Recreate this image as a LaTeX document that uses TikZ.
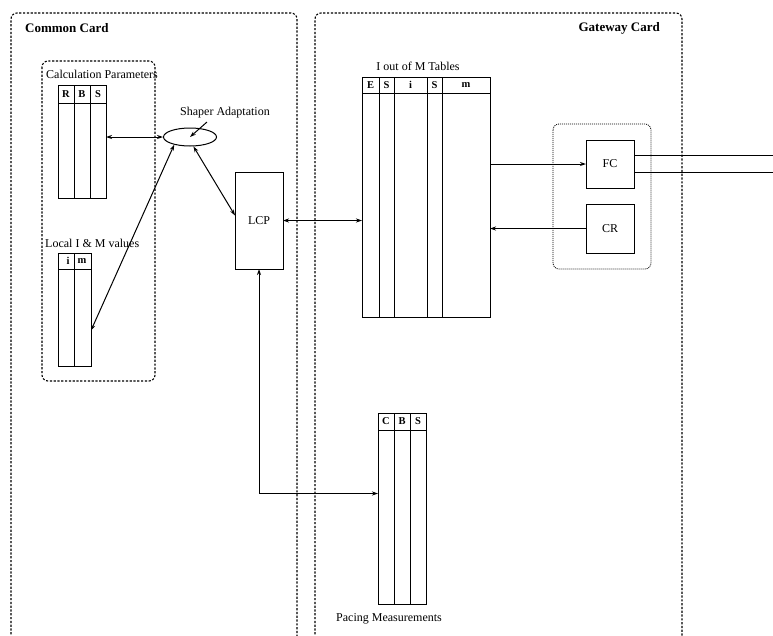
\documentclass[tikz,border=0pt]{standalone}
\usepackage{fontspec}
\setmainfont{Liberation Serif}
\usetikzlibrary{arrows.meta,shapes.geometric,calc}
\begin{document}
\begin{tikzpicture}[x=1pt,y=-1pt,
 card/.style={draw, line width=1.1pt, dash pattern=on 2.2pt off 1.6pt, rounded corners=6pt},
 grp/.style={draw, line width=0.8pt, dash pattern=on 1pt off 1pt, rounded corners=6pt},
 tbl/.style={draw, line width=1pt, inner sep=0pt, outer sep=0pt, anchor=north west},
 tline/.style={line width=1pt},
 box/.style={draw, line width=1pt, inner sep=0pt, outer sep=0pt, font=\fontsize{12}{14}\selectfont},
 hdr/.style={font=\bfseries\fontsize{10.5}{12}\selectfont, inner sep=0pt},
 lbl/.style={font=\fontsize{12}{14}\selectfont, inner sep=0pt},
 ttl/.style={font=\bfseries\fontsize{13}{15}\selectfont, inner sep=0pt},
 conn/.style={line width=1pt, {Stealth[length=6pt,width=4pt]}-{Stealth[length=6pt,width=4pt]}},
 one/.style={line width=1pt, -{Stealth[length=6pt,width=4pt]}},
 ]
\useasboundingbox (0,0) rectangle (773,635);
\clip (0,0) rectangle (773,635);
\fill[white] (0,0) rectangle (773,635);

% cards
\draw[card] (11,680) -- (11,13) -- (297,13) -- (297,680);
\draw[card] (315,680) -- (315,13) -- (682,13) -- (682,680);
\node[ttl, anchor=west] (cct) at (25,28) {Common Card};
\node[ttl, anchor=east] (gct) at (660,28) {Gateway Card};

% calculation parameters group
\draw[card] (42,61) rectangle (155,381);
\node[lbl, anchor=west] (cpl) at (46,74) {Calculation Parameters};

% R B S table
\node[tbl, minimum width=48pt, minimum height=113pt] (rbs) at (58,85) {};
\draw[tline] (58,103) -- (106,103);
\draw[tline] (74,85) -- (74,198) (90,85) -- (90,198);
\node[hdr] (h1) at (66,94) {R};
\node[hdr] (h2) at (82,94) {B};
\node[hdr] (h3) at (98,94) {S};

% local I & M values
\node[lbl, anchor=west] (liml) at (45,243) {Local I \& M values};
\node[tbl, minimum width=33pt, minimum height=113pt] (im) at (58,253) {};
\draw[tline] (58,269) -- (91,269);
\draw[tline] (74,253) -- (74,366);
\node[hdr] (h4) at (68,261) {i};
\node[hdr] (h5) at (82,261) {m};

% shaper adaptation
\node[draw, ellipse, line width=1pt, minimum width=53pt, minimum height=18pt, inner sep=0pt] (sa) at (190,137) {};
\node[lbl] (sal) at (225,113) {Shaper Adaptation};
\coordinate (sap) at (207,122);
\draw[one] (sap) -- (sa.center);

% LCP
\node[box, minimum width=48pt, minimum height=97pt] (lcp) at (259,220.5) {LCP};

% I out of M tables
\node[lbl] (ioml) at (418,66) {I out of M Tables};
\node[tbl, minimum width=128pt, minimum height=240pt] (iom) at (362,77) {};
\draw[tline] (362,93) -- (490,93);
\draw[tline] (379,77) -- (379,317) (394,77) -- (394,317) (427,77) -- (427,317) (442,77) -- (442,317);
\node[hdr] (h6) at (370.5,85) {E};
\node[hdr] (h7) at (386.5,85) {S};
\node[hdr] (h8) at (410.5,85) {i};
\node[hdr] (h9) at (434.5,85) {S};
\node[hdr] (h10) at (466,85) {m};

% FC / CR group
\draw[grp] (553,124) rectangle (651,269);
\node[box, minimum width=48pt, minimum height=48pt] (fc) at (610,164) {FC};
\node[box, minimum width=48pt, minimum height=49pt] (cr) at (610,228.5) {CR};

% pacing measurements
\node[tbl, minimum width=48pt, minimum height=191pt] (pm) at (378,413) {};
\draw[tline] (378,430) -- (426,430);
\draw[tline] (394,413) -- (394,604) (410,413) -- (410,604);
\node[hdr] (h11) at (386,421.5) {C};
\node[hdr] (h12) at (402,421.5) {B};
\node[hdr] (h13) at (418,421.5) {S};
\node[lbl] (pml) at (389,619) {Pacing Measurements};

% connectors
\draw[conn] (sa.west -| rbs.east) -- (sa.west);
\draw[conn] (sa.206) -- ([yshift=-21pt]im.east);
\draw[conn] (sa.290) -- ([yshift=5pt]lcp.west);
\draw[conn] (lcp.east) -- (lcp.east -| iom.west);
\draw[one] (fc.west -| iom.east) -- (fc.west);
\draw[one] (cr.west) -- (cr.west -| iom.east);
\draw[conn] (lcp.south) |- ([yshift=15pt]pm.west);

% outgoing lines
\coordinate (o1) at (773,155);
\coordinate (o2) at (773,172);
\draw[tline] (fc.east |- o1) -- (o1);
\draw[tline] (fc.east |- o2) -- (o2);
\end{tikzpicture}
\end{document}
